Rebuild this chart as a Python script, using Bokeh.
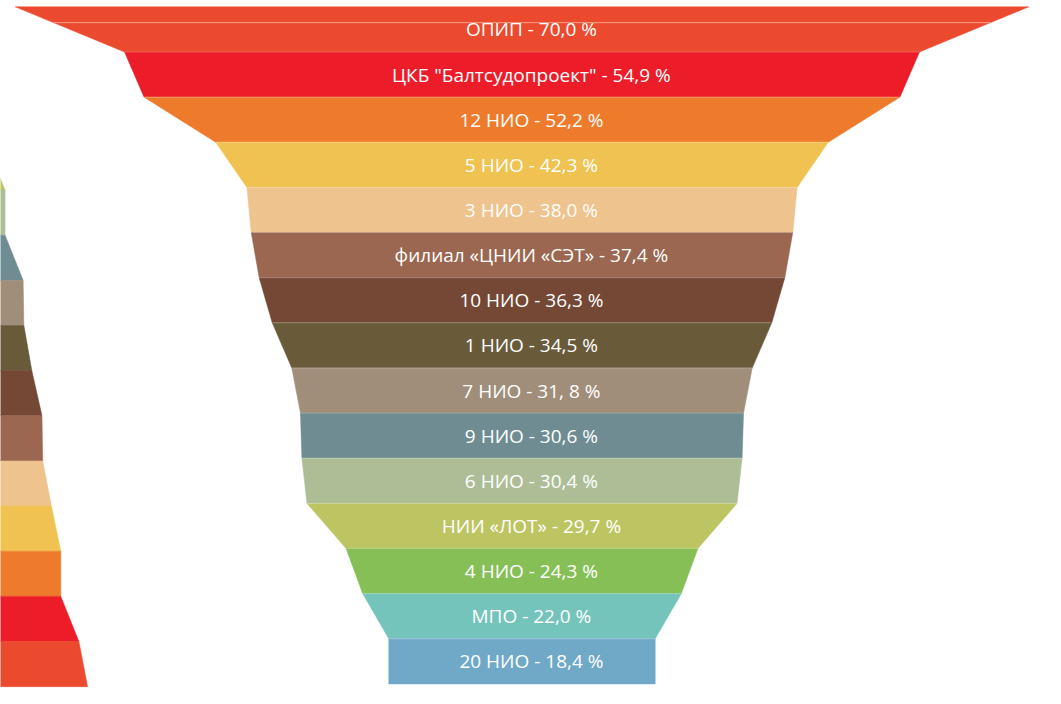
from bokeh.plotting import figure
from bokeh.models import Range1d, ColumnDataSource
from bokeh.core.properties import value
from bokeh.embed import file_html
from bokeh.resources import INLINE

# ---- data: main funnel (top to bottom) ----
categories = ["ОПИП", "ЦКБ \"Балтсудопроект\"", "12 НИО", "5 НИО", "3 НИО",
              "филиал «ЦНИИ «СЭТ»", "10 НИО", "1 НИО", "7 НИО", "9 НИО",
              "6 НИО", "НИИ «ЛОТ»", "4 НИО", "МПО", "20 НИО"]
values = [70.0, 54.9, 52.2, 42.3, 38.0, 37.4, 36.3, 34.5, 31.8, 30.6,
          30.4, 29.7, 24.3, 22.0, 18.4]
value_labels = ["70,0", "54,9", "52,2", "42,3", "38,0", "37,4", "36,3", "34,5",
                "31, 8", "30,6", "30,4", "29,7", "24,3", "22,0", "18,4"]
colors = ["#EC4A2F", "#EC1C29", "#EE7B2B", "#F0C251", "#EFC38D", "#9B6750",
          "#744835", "#695A3A", "#A08E7B", "#6E8C91", "#ADBE97", "#BDC562",
          "#86BF56", "#74C4BC", "#70A8C8"]

# ---- data: second (inverted) funnel, mostly cut off at the left edge ----
# categories in reverse order (top to bottom); values estimated from the visible edge
left_categories = categories[::-1]
left_values = [52.0, 54.0, 56.0, 58.6, 58.6, 61.1, 61.2, 62.3, 63.7, 63.8,
               65.0, 66.3, 66.3, 68.8, 70.0]
left_colors = colors[::-1]
left_center = -65.0

W, H = 1045, 688
PX_PER_UNIT = 14.48
CENTER_PX = 521.5
x0 = -CENTER_PX / PX_PER_UNIT
x1 = x0 + W / PX_PER_UNIT
n = len(values)
ROW_PX = 45.14
TOP_PX = 6.35
y_top = -TOP_PX / ROW_PX
y_bot = (H - TOP_PX) / ROW_PX

p = figure(width=W, height=H, x_range=Range1d(x0, x1), y_range=Range1d(y_bot, y_top),
           output_backend="svg", toolbar_location=None, min_border=0)
p.axis.visible = False
p.grid.visible = False
p.outline_line_color = None
p.background_fill_color = "white"
p.border_fill_color = "white"

# left inverted funnel: top = previous layer value, bottom = own value
off = 0.06
lxs, lys = [], []
for j, v in enumerate(left_values):
    t = left_values[j - 1] if j > 0 else v
    lxs.append([left_center - t / 2, left_center + t / 2,
                left_center + v / 2, left_center - v / 2])
    lys.append([j + off, j + off, j + 1 + off, j + 1 + off])
p.patches(lxs, lys, fill_color=left_colors, line_color=left_colors, line_width=0.5)

# main funnel: top = own value, bottom = next layer value
xs, ys = [], []
for i, v in enumerate(values):
    b = values[i + 1] if i + 1 < n else v
    xs.append([-v / 2, v / 2, b / 2, -b / 2])
    ys.append([i, i, i + 1, i + 1])
src = ColumnDataSource(dict(xs=xs, ys=ys, color=colors))
p.patches("xs", "ys", source=src, fill_color="color", line_color="color", line_width=0.5)

# thin light separators between layers
for i in range(1, n):
    w = values[i] / 2
    p.segment(x0=-w, y0=i, x1=w, y1=i, line_color="white", line_alpha=0.25, line_width=1)

# light seam inside the top layer
f = 0.35
ws = (values[0] + (values[1] - values[0]) * f) / 2
p.segment(x0=-ws, y0=f, x1=ws, y1=f, line_color="#F7A08A", line_width=1)

labels = [f"{c} - {vl} %" for c, vl in zip(categories, value_labels)]
p.text(x=[0.65] * n, y=[i + 0.5 for i in range(n)], text=labels,
       text_color="white", text_font=value("Open Sans"), text_font_size="19px",
       text_align="center", text_baseline="middle")

open("out.html", "w").write(file_html(p, INLINE))
